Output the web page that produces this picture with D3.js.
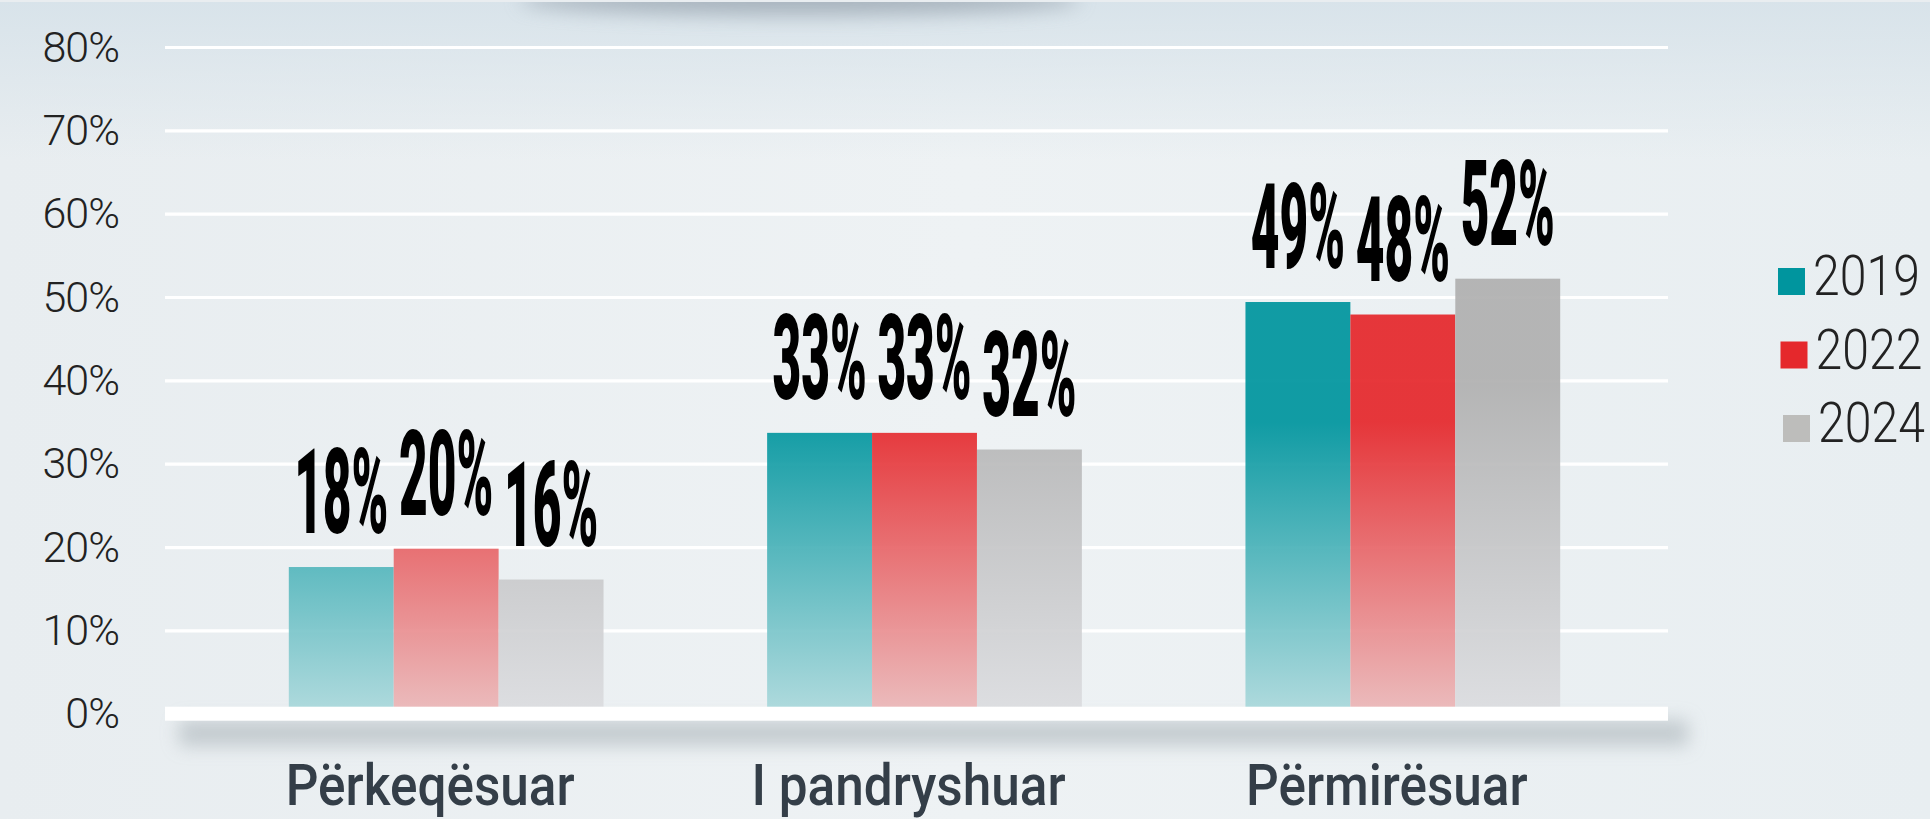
<!DOCTYPE html>
<html>
<head>
<meta charset="utf-8">
<script src="https://cdn.jsdelivr.net/npm/d3@7"></script>
<style>
  html, body { margin: 0; padding: 0; background: #eaeff2; overflow: hidden; }
  svg { display: block; }
</style>
</head>
<body>
<svg id="chart" width="1930" height="819"></svg>
<script>
// ---- data ----
const categories = ["Përkeqësuar", "I pandryshuar", "Përmirësuar"];
const years = ["2019", "2022", "2024"];
const values2019 = [17.6, 33.7, 49.4];
const values2022 = [19.8, 33.7, 47.9];
const values2024 = [16.1, 31.7, 52.2];
const labels2019 = ["18%", "33%", "49%"];
const labels2022 = ["20%", "33%", "48%"];
const labels2024 = ["16%", "32%", "52%"];
const yTicks = [0, 10, 20, 30, 40, 50, 60, 70, 80];

const seriesValues = [values2019, values2022, values2024];
const seriesLabels = [labels2019, labels2022, labels2024];
const colorsTop = ["#00959e", "#e5282c", "#b0b0b0"];
const colorsBottom = ["#acd9dc", "#ebb9ba", "#dcdde0"];
const legendColors = ["#00959e", "#e5282c", "#bdbdbb"];
const fadeTo = [35, 35, 40];

const W = 1930, H = 819;
const svg = d3.select("#chart");
const defs = svg.append("defs");

// ---- background ----
const bgH = defs.append("linearGradient").attr("id", "bgH").attr("x1", 0).attr("x2", 1).attr("y1", 0).attr("y2", 0);
bgH.append("stop").attr("offset", 0).attr("stop-color", "#e8edf0");
bgH.append("stop").attr("offset", 0.5).attr("stop-color", "#eef2f4");
bgH.append("stop").attr("offset", 1).attr("stop-color", "#e8eef1");
svg.append("rect").attr("width", W).attr("height", H).attr("fill", "url(#bgH)");

const bgV = defs.append("linearGradient").attr("id", "bgV").attr("x1", 0).attr("x2", 0).attr("y1", 0).attr("y2", 1);
bgV.append("stop").attr("offset", 0).attr("stop-color", "#d8e3ea").attr("stop-opacity", 1);
bgV.append("stop").attr("offset", 1).attr("stop-color", "#d8e3ea").attr("stop-opacity", 0);
svg.append("rect").attr("x", 0).attr("y", 0).attr("width", W).attr("height", 160).attr("fill", "url(#bgV)");

const blurTop = defs.append("filter").attr("id", "blurTop").attr("x", "-50%").attr("y", "-200%").attr("width", "200%").attr("height", "500%");
blurTop.append("feGaussianBlur").attr("stdDeviation", 10);
svg.append("ellipse").attr("cx", 800).attr("cy", 0).attr("rx", 280).attr("ry", 15)
  .attr("fill", "#8d99a4").attr("opacity", 0.65).attr("filter", "url(#blurTop)");
svg.append("rect").attr("x", 0).attr("y", 0).attr("width", W).attr("height", 2).attr("fill", "#e9edf0");

// ---- scales ----
const plotX0 = 165, plotX1 = 1668;
const y = d3.scaleLinear().domain([0, 80]).range([713.7, 47]);
const x0 = d3.scaleBand().domain(categories).range([207, 1642]).paddingInner(0.342).paddingOuter(0.171);
const x1 = d3.scaleBand().domain(years).range([0, x0.bandwidth()]).padding(0);

// ---- gridlines ----
const grid = svg.append("g").attr("transform", `translate(${plotX0},0)`)
  .call(d3.axisLeft(y).tickValues(yTicks.filter(d => d > 0)).tickSize(-(plotX1 - plotX0)).tickFormat(""));
grid.select(".domain").remove();
grid.selectAll("line").attr("stroke", "#ffffff").attr("stroke-width", 3.2);

// ---- y axis labels ----
const yAxis = svg.append("g").attr("transform", `translate(${plotX0},0)`)
  .call(d3.axisLeft(y).tickValues(yTicks).tickSize(0).tickPadding(46).tickFormat(d => d + "%"));
yAxis.select(".domain").remove();
yAxis.selectAll("text")
  .attr("font-family", "Roboto, 'Liberation Sans', sans-serif")
  .attr("font-weight", 300)
  .attr("font-size", 43)
  .attr("letter-spacing", -1)
  .attr("fill", "#222222")
  .attr("dy", 14);

// ---- bar gradients ----
years.forEach((yr, i) => {
  const g = defs.append("linearGradient").attr("id", "grad" + yr)
    .attr("gradientUnits", "userSpaceOnUse")
    .attr("x1", 0).attr("x2", 0).attr("y1", y(0)).attr("y2", y(fadeTo[i]));
  g.append("stop").attr("offset", 0).attr("stop-color", colorsBottom[i]);
  g.append("stop").attr("offset", 1).attr("stop-color", colorsTop[i]);
});

// ---- baseline shadow ----
const blurBase = defs.append("filter").attr("id", "blurBase").attr("x", "-10%").attr("y", "-200%").attr("width", "120%").attr("height", "500%");
blurBase.append("feGaussianBlur").attr("stdDeviation", 9);
svg.append("rect").attr("x", plotX0 + 14).attr("y", 720).attr("width", plotX1 - plotX0 + 6).attr("height", 26)
  .attr("fill", "#b3bcc1").attr("opacity", 0.7).attr("filter", "url(#blurBase)");

// ---- bars ----
const groups = svg.append("g").selectAll("g").data(categories).join("g")
  .attr("transform", d => `translate(${x0(d)},0)`);

groups.each(function(cat, ci) {
  const g = d3.select(this);
  years.forEach((yr, si) => {
    const v = seriesValues[si][ci];
    g.append("rect")
      .attr("x", x1(yr))
      .attr("y", y(v))
      .attr("width", x1.bandwidth())
      .attr("height", y(0) - y(v))
      .attr("fill", `url(#grad${yr})`)
      .attr("fill-opacity", 0.93);
  });
});

// ---- baseline band ----
svg.append("rect").attr("x", plotX0).attr("y", y(0) - 7).attr("width", plotX1 - plotX0).attr("height", 14).attr("fill", "#ffffff");

// ---- value labels ----
groups.each(function(cat, ci) {
  const g = d3.select(this);
  years.forEach((yr, si) => {
    const v = seriesValues[si][ci];
    const cx = x1(yr) + x1.bandwidth() / 2;
    g.append("text")
      .attr("transform", `translate(${cx},${y(v) - 34}) scale(0.42,1)`)
      .attr("text-anchor", "middle")
      .attr("font-family", "Roboto, 'Liberation Sans', sans-serif")
      .attr("font-weight", 900)
      .attr("font-size", 118)
      .attr("fill", "#000000")
      .text(seriesLabels[si][ci]);
  });
});

// ---- category labels ----
svg.append("g").selectAll("text").data(categories).join("text")
  .attr("transform", d => `translate(${x0(d) + x0.bandwidth() / 2 - 16},805) scale(0.9,1)`)
  .attr("text-anchor", "middle")
  .attr("font-family", "Roboto, 'Liberation Sans', sans-serif")
  .attr("font-weight", 500)
  .attr("font-size", 57)
  .attr("fill", "#343e48")
  .text(d => d);

// ---- legend ----
const legend = svg.append("g").selectAll("g").data(years).join("g")
  .attr("transform", (d, i) => `translate(${1778 + i * 2.5},${268 + i * 73.5})`);
legend.append("rect").attr("width", 27).attr("height", 27).attr("fill", (d, i) => legendColors[i]);
legend.append("text")
  .attr("transform", "translate(35,27) scale(0.86,1)")
  .attr("font-family", "Roboto, 'Liberation Sans', sans-serif")
  .attr("font-weight", 300)
  .attr("font-size", 56)
  .attr("fill", "#222222")
  .text(d => d);
</script>
</body>
</html>
